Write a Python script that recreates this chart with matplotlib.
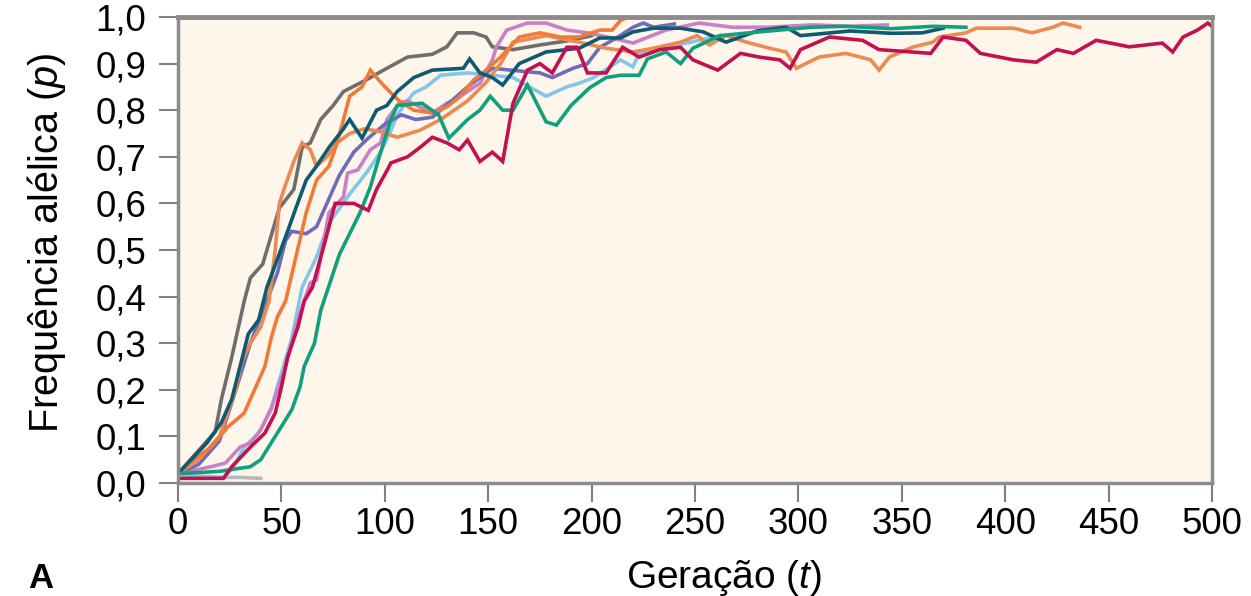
import matplotlib
matplotlib.use("Agg")
import matplotlib.pyplot as plt

plt.rcParams["font.family"] = ["Liberation Sans", "DejaVu Sans"]
plt.rcParams["mathtext.fontset"] = "custom"
plt.rcParams["mathtext.it"] = "Liberation Sans:italic"
plt.rcParams["mathtext.rm"] = "Liberation Sans"

# generation (t) / allele frequency (p), one pair per run
gray_t = [0, 10, 18, 21, 26, 32, 35, 41, 49, 56, 60, 64, 69, 75, 80, 91, 101, 111, 123, 130, 135, 143, 149, 152, 162, 175, 190, 200]
gray_p = [0.02, 0.07, 0.11, 0.18, 0.27, 0.39, 0.44, 0.47, 0.59, 0.63, 0.72, 0.73, 0.78, 0.81, 0.84, 0.865, 0.89, 0.914, 0.92, 0.936, 0.966, 0.966, 0.957, 0.936, 0.93, 0.94, 0.95, 0.96]

lostgray_t = [0, 10, 22, 30, 40]
lostgray_p = [0.02, 0.015, 0.012, 0.012, 0.01]

lightblue_t = [0, 22, 27, 32, 39, 45, 48, 55, 60, 67, 73, 83, 91, 98, 103, 106, 111, 114, 120, 127, 140, 152, 162, 172, 178, 188, 194, 201, 214, 220, 223, 235, 248, 262]
lightblue_p = [0.01, 0.012, 0.035, 0.077, 0.107, 0.157, 0.206, 0.31, 0.42, 0.485, 0.558, 0.62, 0.665, 0.71, 0.757, 0.79, 0.82, 0.837, 0.85, 0.875, 0.88, 0.875, 0.87, 0.845, 0.83, 0.85, 0.858, 0.87, 0.908, 0.893, 0.922, 0.935, 0.946, 0.96]

lavender_t = [0, 16, 23, 30, 35, 40, 45, 52, 58, 64, 67, 73, 80, 82, 87, 93, 98, 101, 107, 111, 123, 130, 136, 146, 152, 154, 159, 169, 178, 188, 198, 210, 220, 236, 252, 268, 285, 307, 325, 343]
lavender_p = [0.02, 0.035, 0.043, 0.077, 0.086, 0.114, 0.16, 0.25, 0.35, 0.43, 0.435, 0.58, 0.614, 0.665, 0.672, 0.715, 0.73, 0.78, 0.815, 0.82, 0.794, 0.815, 0.828, 0.858, 0.908, 0.936, 0.972, 0.987, 0.987, 0.972, 0.966, 0.955, 0.944, 0.972, 0.987, 0.978, 0.978, 0.983, 0.98, 0.983]

violet_t = [0, 10, 20, 28, 35, 42, 48, 52, 55, 62, 67, 72, 78, 85, 92, 100, 108, 115, 123, 131, 140, 152, 163, 175, 181, 191, 198, 204, 212, 220, 225, 230, 240]
violet_p = [0.02, 0.04, 0.09, 0.2, 0.3, 0.38, 0.45, 0.52, 0.54, 0.535, 0.55, 0.6, 0.66, 0.71, 0.74, 0.77, 0.79, 0.78, 0.785, 0.815, 0.85, 0.89, 0.885, 0.88, 0.87, 0.89, 0.9, 0.935, 0.955, 0.978, 0.987, 0.978, 0.985]

salmon_t = [0, 10, 20, 28, 31, 35, 40, 44, 47, 49, 52, 56, 60, 64, 67, 72, 77, 83, 90, 97, 106, 117, 127, 140, 149, 156, 162, 178, 194, 207, 220, 230, 243, 251, 257, 265, 275, 286, 294, 299, 310, 323, 335, 339, 344, 355, 365, 368, 381, 386, 404, 413, 423, 428, 436]
salmon_p = [0.02, 0.05, 0.1, 0.2, 0.264, 0.30, 0.335, 0.39, 0.5, 0.6, 0.64, 0.69, 0.73, 0.715, 0.68, 0.70, 0.73, 0.75, 0.76, 0.755, 0.742, 0.757, 0.78, 0.82, 0.86, 0.90, 0.946, 0.96, 0.946, 0.933, 0.925, 0.933, 0.946, 0.96, 0.94, 0.96, 0.946, 0.933, 0.925, 0.89, 0.914, 0.922, 0.908, 0.886, 0.914, 0.935, 0.946, 0.957, 0.966, 0.976, 0.976, 0.966, 0.978, 0.987, 0.978]

orange_t = [0, 3, 16, 24, 32, 37, 42, 45, 48, 52, 57, 62, 67, 73, 77, 80, 83, 89, 93, 98, 103, 107, 114, 123, 130, 136, 143, 149, 156, 165, 175, 185, 194, 204, 210, 214, 218]
orange_p = [0.02, 0.035, 0.077, 0.12, 0.15, 0.2, 0.25, 0.31, 0.356, 0.39, 0.485, 0.58, 0.65, 0.68, 0.73, 0.78, 0.83, 0.85, 0.886, 0.86, 0.837, 0.82, 0.80, 0.794, 0.807, 0.828, 0.865, 0.886, 0.914, 0.957, 0.966, 0.957, 0.957, 0.972, 0.972, 0.993, 1.0]

teal_t = [0, 14, 21, 26, 30, 34, 39, 43, 53, 57, 62, 67, 73, 80, 83, 89, 96, 101, 106, 114, 123, 138, 141, 146, 152, 157, 165, 178, 194, 204, 214, 220, 230, 243, 254, 265, 280, 294, 301, 325, 345, 360, 370]
teal_p = [0.02, 0.086, 0.13, 0.18, 0.25, 0.32, 0.35, 0.42, 0.54, 0.59, 0.65, 0.68, 0.72, 0.76, 0.78, 0.74, 0.80, 0.81, 0.84, 0.87, 0.886, 0.89, 0.91, 0.88, 0.87, 0.854, 0.90, 0.925, 0.933, 0.955, 0.955, 0.968, 0.976, 0.976, 0.968, 0.946, 0.97, 0.978, 0.96, 0.97, 0.965, 0.966, 0.976]

green_t = [0, 20, 35, 40, 48, 55, 59, 61, 66, 69, 78, 88, 93, 98, 103, 106, 118, 126, 131, 140, 146, 151, 157, 162, 169, 178, 183, 190, 199, 207, 214, 223, 227, 236, 243, 249, 262, 281, 306, 323, 345, 365, 381]
green_p = [0.02, 0.025, 0.035, 0.05, 0.107, 0.157, 0.206, 0.25, 0.30, 0.37, 0.49, 0.58, 0.635, 0.71, 0.78, 0.81, 0.815, 0.79, 0.74, 0.78, 0.80, 0.83, 0.80, 0.80, 0.854, 0.775, 0.768, 0.81, 0.848, 0.87, 0.875, 0.875, 0.91, 0.925, 0.90, 0.933, 0.96, 0.968, 0.978, 0.98, 0.975, 0.98, 0.978]

crimson_t = [0, 22, 26, 35, 42, 47, 50, 53, 58, 61, 65, 70, 76, 85, 92, 96, 101, 103, 111, 117, 123, 130, 136, 140, 146, 152, 157, 162, 169, 175, 181, 188, 193, 198, 207, 215, 223, 233, 243, 249, 261, 272, 281, 291, 296, 301, 315, 331, 339, 364, 370, 381, 388, 404, 415, 425, 433, 444, 460, 476, 481, 486, 493, 498, 500]
crimson_p = [0.01, 0.01, 0.035, 0.077, 0.107, 0.15, 0.206, 0.27, 0.335, 0.39, 0.42, 0.5, 0.6, 0.6, 0.585, 0.63, 0.67, 0.687, 0.70, 0.72, 0.742, 0.73, 0.715, 0.736, 0.69, 0.71, 0.69, 0.815, 0.886, 0.90, 0.88, 0.935, 0.935, 0.88, 0.88, 0.935, 0.914, 0.93, 0.935, 0.908, 0.886, 0.922, 0.914, 0.908, 0.89, 0.93, 0.957, 0.95, 0.93, 0.922, 0.957, 0.95, 0.922, 0.908, 0.903, 0.93, 0.922, 0.95, 0.936, 0.944, 0.925, 0.957, 0.972, 0.987, 0.98]

runs = [
    (lostgray_t, lostgray_p, "#b8b8b8"),
    (gray_t, gray_p, "#6e6e6e"),
    (lightblue_t, lightblue_p, "#82c7ea"),
    (lavender_t, lavender_p, "#c881c4"),
    (violet_t, violet_p, "#6d6db8"),
    (salmon_t, salmon_p, "#ec8a52"),
    (orange_t, orange_p, "#f07b38"),
    (teal_t, teal_p, "#0e5a70"),
    (green_t, green_p, "#11a07e"),
    (crimson_t, crimson_p, "#c1124f"),
]

x_ticks = [0, 50, 100, 150, 200, 250, 300, 350, 400, 450, 500]
y_ticks = [0.0, 0.1, 0.2, 0.3, 0.4, 0.5, 0.6, 0.7, 0.8, 0.9, 1.0]

fig = plt.figure(figsize=(12.51, 5.96), dpi=100)
ax = fig.add_axes([178 / 1251, 1 - 483 / 596, (1212 - 178) / 1251, (483 - 17) / 596])
ax.set_facecolor("#fef6eb")

for t, p, c in runs:
    ax.plot(t, p, color=c, lw=2.6, solid_joinstyle="miter")

ax.set_xlim(0, 500)
ax.set_ylim(0, 1.0)
ax.set_xticks(x_ticks)
ax.set_yticks(y_ticks)
ax.set_yticklabels([f"{v:.1f}".replace(".", ",") for v in y_ticks])
ax.tick_params(direction="out", length=14, width=1.5, color="#808080",
               labelsize=26.5)
ax.tick_params(axis="y", pad=9)
ax.tick_params(axis="x", pad=3)

for side in ["left", "bottom", "top", "right"]:
    ax.spines[side].set_color("#8c8c8c")
    ax.spines[side].set_linewidth(2.5)
ax.spines["top"].set_linewidth(3.5)

ax.set_xlabel(r"Geração ($\mathit{t}$)", fontsize=28)
ax.set_ylabel(r"Frequência alélica ($\mathit{p}$)", fontsize=28.5)
ax.xaxis.set_label_coords((724 - 178) / 1034, -(558 - 483) / 466)
ax.yaxis.set_label_coords(-(178 - 68) / 1034, 0.515)
fig.text(28 / 1251, 1 - 578 / 596, "A", fontsize=25, fontweight="bold",
         va="center", ha="left")

fig.savefig("out.png", dpi=100, facecolor="white")
